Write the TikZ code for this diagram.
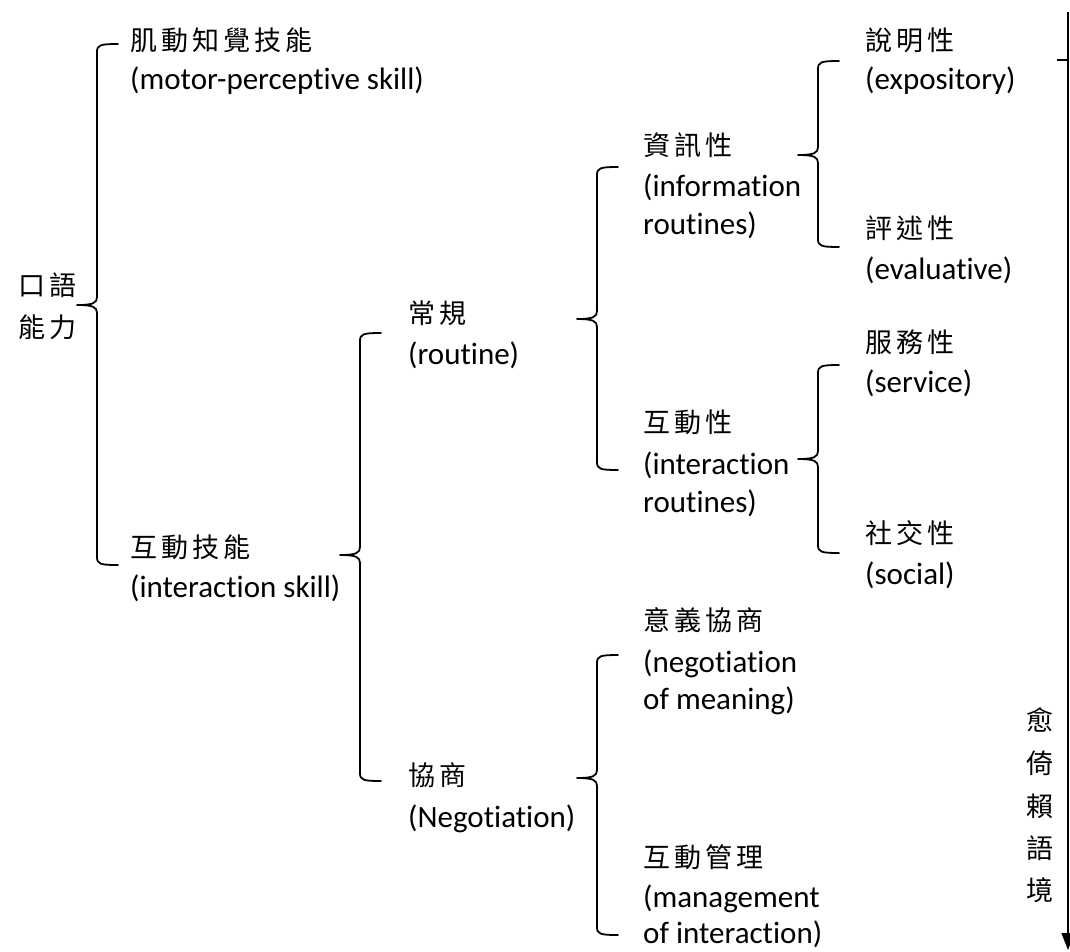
\documentclass[tikz,border=0pt]{standalone}
\usepackage{fontspec}
\setmainfont{Carlito}[Ligatures=NoCommon]
\newfontfamily\cjk{Noto Sans CJK TC}[LetterSpace=15]
\usetikzlibrary{arrows.meta}

% left bracket with a pointed middle: x, top y, middle y, bottom y
\newcommand\leftbracket[4]{%
  \draw[brk] ({#1+21},#2) .. controls ({#1+3},#2) and (#1,{#2+1}) .. (#1,{#2+8})
    -- (#1,{#3-8}) .. controls (#1,{#3-2}) and ({#1-4},#3) .. ({#1-20},#3)
    .. controls ({#1-4},#3) and (#1,{#3+2}) .. (#1,{#3+8})
    -- (#1,{#4-8}) .. controls (#1,{#4-1}) and ({#1+3},#4) .. ({#1+21},#4);}

\begin{document}
\begin{tikzpicture}[x=1pt,y=-1pt,
  zh/.style={font=\cjk\fontsize{27}{27}\selectfont, inner sep=0pt, anchor=base west},
  en/.style={font=\fontsize{31}{31}\selectfont, inner sep=0pt, anchor=base west},
  vzh/.style={font=\cjk\fontsize{27}{27}\selectfont, inner sep=0pt, anchor=base},
  brk/.style={line width=1.8pt, line join=round, line cap=round},
  axis/.style={line width=1.5pt, -{Triangle[width=13pt,length=17pt]}}]
\useasboundingbox (0,0) rectangle (1070,951);

% root
\node[zh] (rootA) at (18,295) {口語};
\node[zh] (rootB) at (18,337) {能力};

% first level
\node[zh] (motorZh) at (130,50) {肌動知覺技能};
\node[en] (motorEn) at (130,89) {(motor-perceptive skill)};
\node[zh] (interZh) at (130,557) {互動技能};
\node[en] (interEn) at (130,597) {(interaction skill)};

% second level
\node[zh] (routZh) at (408,323) {常規};
\node[en] (routEn) at (408,364) {(routine)};
\node[zh] (negoZh) at (408,785) {協商};
\node[en] (negoEn) at (408,827) {(Negotiation)};

% third level
\node[zh] (infoZh) at (643,155) {資訊性};
\node[en] (infoEnA) at (643,196) {(information};
\node[en] (infoEnB) at (643,234) {routines)};
\node[zh] (iroutZh) at (643,432) {互動性};
\node[en] (iroutEnA) at (643,474) {(interaction};
\node[en] (iroutEnB) at (643,512) {routines)};
\node[zh] (meanZh) at (643,630) {意義協商};
\node[en] (meanEnA) at (643,672) {(negotiation};
\node[en] (meanEnB) at (643,709) {of meaning)};
\node[zh] (mgmtZh) at (643,867) {互動管理};
\node[en] (mgmtEnA) at (643,907) {(management};
\node[en] (mgmtEnB) at (643,943) {of interaction)};

% fourth level
\node[zh] (expoZh) at (865,50) {說明性};
\node[en] (expoEn) at (865,89) {(expository)};
\node[zh] (evalZh) at (865,238) {評述性};
\node[en] (evalEn) at (865,279) {(evaluative)};
\node[zh] (servZh) at (865,352) {服務性};
\node[en] (servEn) at (865,392) {(service)};
\node[zh] (socZh) at (865,543) {社交性};
\node[en] (socEn) at (865,584) {(social)};

% brackets
\leftbracket{97}{44}{305}{565}
\leftbracket{360}{333}{555}{781}
\leftbracket{597}{167}{319}{470}
\leftbracket{818}{61}{155}{247}
\leftbracket{818}{365}{459}{553}
\leftbracket{597}{655}{778}{935}

% context-dependence axis
\coordinate (axTop) at (1068,12);
\coordinate (axEnd) at (1068,950);
\coordinate (tickL) at (1057,60);
\coordinate (tickR) at (1068,60);
\draw[axis] (axTop) -- (axEnd);
\draw[line width=1.5pt] (tickL) -- (tickR);
\node[vzh] (ctxA) at (1040,730) {愈};
\node[vzh] (ctxB) at (1040,773) {倚};
\node[vzh] (ctxC) at (1040,816) {賴};
\node[vzh] (ctxD) at (1040,858) {語};
\node[vzh] (ctxE) at (1040,900) {境};
\end{tikzpicture}
\end{document}
